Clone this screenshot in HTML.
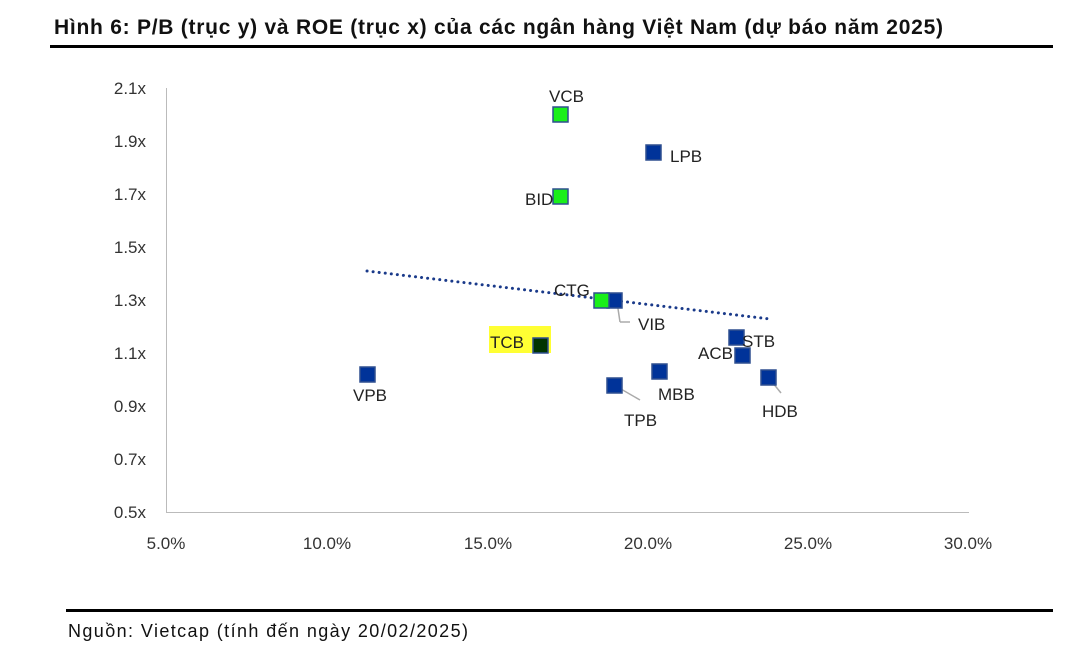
<!DOCTYPE html>
<html><head><meta charset="utf-8"><style>
body{margin:0;background:#fff;width:1071px;height:660px;overflow:hidden;font-family:"Liberation Sans",sans-serif;}
</style></head><body>
<svg width="1071" height="660" xmlns="http://www.w3.org/2000/svg" font-family="Liberation Sans, sans-serif">
<text x="54" y="34" font-size="21" font-weight="bold" fill="#111" textLength="889" lengthAdjust="spacing">Hình 6: P/B (trục y) và ROE (trục x) của các ngân hàng Việt Nam (dự báo năm 2025)</text>
<rect x="50" y="45" width="1003" height="3" fill="#000"/>
<rect x="66" y="609" width="987" height="3" fill="#000"/>
<text x="68" y="637" font-size="18" fill="#111" textLength="400" lengthAdjust="spacing">Nguồn: Vietcap (tính đến ngày 20/02/2025)</text>
<line x1="166.5" y1="88" x2="166.5" y2="512" stroke="#bbb" stroke-width="1"/>
<line x1="166" y1="512.5" x2="969" y2="512.5" stroke="#bbb" stroke-width="1"/>
<g font-size="17" fill="#333" text-anchor="end">
<text x="146" y="94">2.1x</text><text x="146" y="147">1.9x</text><text x="146" y="200">1.7x</text>
<text x="146" y="253">1.5x</text><text x="146" y="306">1.3x</text><text x="146" y="359">1.1x</text>
<text x="146" y="412">0.9x</text><text x="146" y="465">0.7x</text><text x="146" y="518">0.5x</text>
</g>
<g font-size="17" fill="#333" text-anchor="middle">
<text x="166" y="549">5.0%</text><text x="327" y="549">10.0%</text><text x="488" y="549">15.0%</text>
<text x="648" y="549">20.0%</text><text x="808" y="549">25.0%</text><text x="968" y="549">30.0%</text>
</g>
<line x1="367" y1="271" x2="770" y2="319" stroke="#1a3a8a" stroke-width="3" stroke-dasharray="0.1 6" stroke-linecap="round"/>
<rect x="489" y="326" width="62" height="27" fill="#ffff33"/>
<g stroke="#aaa" stroke-width="1.5">
<line x1="617" y1="302" x2="620" y2="322"/><line x1="620" y1="322" x2="630" y2="322"/>
<line x1="614" y1="385" x2="640" y2="400"/>
<line x1="768" y1="377" x2="781" y2="393"/>
</g>
<g stroke="#2f4f8f" stroke-width="1.5">
<rect x="553" y="107" width="15" height="15" fill="#1aef1a"/>
<rect x="646" y="145" width="15" height="15" fill="#003399"/>
<rect x="553" y="189" width="15" height="15" fill="#1aef1a"/>
<rect x="607" y="293" width="15" height="15" fill="#003399"/>
<rect x="594" y="293" width="15" height="15" fill="#1aef1a"/>
<rect x="533" y="338" width="15" height="15" fill="#003300"/>
<rect x="360" y="367" width="15" height="15" fill="#003399"/>
<rect x="607" y="378" width="15" height="15" fill="#003399"/>
<rect x="652" y="364" width="15" height="15" fill="#003399"/>
<rect x="729" y="330" width="15" height="15" fill="#003399"/>
<rect x="735" y="348" width="15" height="15" fill="#003399"/>
<rect x="761" y="370" width="15" height="15" fill="#003399"/>
</g>
<g font-size="17" fill="#222">
<text x="549" y="102">VCB</text><text x="670" y="162">LPB</text><text x="525" y="205">BID</text>
<text x="554" y="296">CTG</text><text x="638" y="330">VIB</text><text x="490" y="348">TCB</text>
<text x="353" y="401">VPB</text><text x="624" y="426">TPB</text><text x="658" y="400">MBB</text>
<text x="742" y="347">STB</text><text x="698" y="359">ACB</text><text x="762" y="417">HDB</text>
</g>
</svg>
</body></html>
